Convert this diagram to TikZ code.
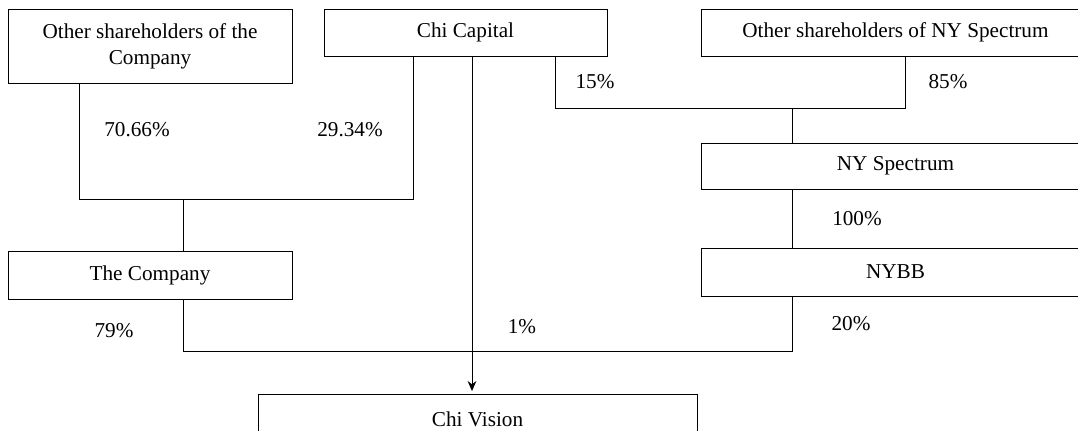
\documentclass[tikz,border=0pt]{standalone}
\usepackage{fontspec}
\setmainfont{Liberation Serif}
\usetikzlibrary{arrows.meta}

\tikzset{
  holder/.style={draw=black, thin, rectangle, inner sep=0pt, align=center,
                 font=\fontsize{15.9}{19.5}\selectfont},
  share/.style={font=\fontsize{15.9}{19.5}\selectfont, inner sep=0pt},
  link/.style={draw=black, line width=0.7pt},
}

\begin{document}
\begin{tikzpicture}[x=0.75pt, y=-0.75pt]
            \useasboundingbox (0,0) rectangle (1078,431);
            \clip (0,0) rectangle (1078,431);

            % boxes
            \node[holder, minimum width=284*0.75pt, minimum height=74*0.75pt] (osc) at (150,46) {Other shareholders of the\\Company};
            \node[holder, minimum width=283*0.75pt, minimum height=47*0.75pt] (chicap) at (465.5,32.5) {Chi Capital};
            \node[holder, minimum width=389*0.75pt, minimum height=47*0.75pt] (osny) at (895.5,32.5) {Other shareholders of NY Spectrum};
            \node[holder, minimum width=389*0.75pt, minimum height=46*0.75pt] (nysp) at (895.5,166) {NY Spectrum};
            \node[holder, minimum width=389*0.75pt, minimum height=48*0.75pt] (nybb) at (895.5,272) {NYBB};
            \node[holder, minimum width=284*0.75pt, minimum height=48*0.75pt] (company) at (150,275) {The Company};
            \node[holder, minimum width=439*0.75pt, minimum height=50*0.75pt] (chivis) at (477.5,419) {Chi Vision};

            % corners
            \coordinate (a1) at (79,199);
            \coordinate (a2) at (413,199);
            \coordinate (a3) at (183,199);
            \coordinate (b1) at (555,108);
            \coordinate (b2) at (905,108);
            \coordinate (b3) at (792,108);
            \coordinate (c1) at (183,351);
            \coordinate (c2) at (792,351);
            \coordinate (cv) at (472,0);

            \draw[link] (osc.south -| a1) -- (a1) -- (a2) -- (chicap.south -| a2);
            \draw[link] (a3) -- (company.north -| a3);
            \draw[link] (chicap.south -| b1) -- (b1) -- (b2) -- (osny.south -| b2);
            \draw[link] (b3) -- (nysp.north -| b3);
            \draw[link] (nysp.south -| b3) -- (nybb.north -| b3);
            \draw[link] (company.south -| c1) -- (c1) -- (c2) -- (nybb.south -| c2);
            \draw[link, -{Stealth[length=7.5pt, width=6.5pt]}, shorten >=2pt] (chicap.south -| cv) -- (chivis.north -| cv);

            % percentages
            \node[share] (p1) at (137,130) {70.66\%};
            \node[share] (p2) at (350,130) {29.34\%};
            \node[share] (p3) at (595,82) {15\%};
            \node[share] (p4) at (948,82) {85\%};
            \node[share] (p5) at (857,219) {100\%};
            \node[share] (p6) at (851,324) {20\%};
            \node[share] (p7) at (114,331) {79\%};
            \node[share] (p8) at (522,327) {1\%};
        \end{tikzpicture}
\end{document}
